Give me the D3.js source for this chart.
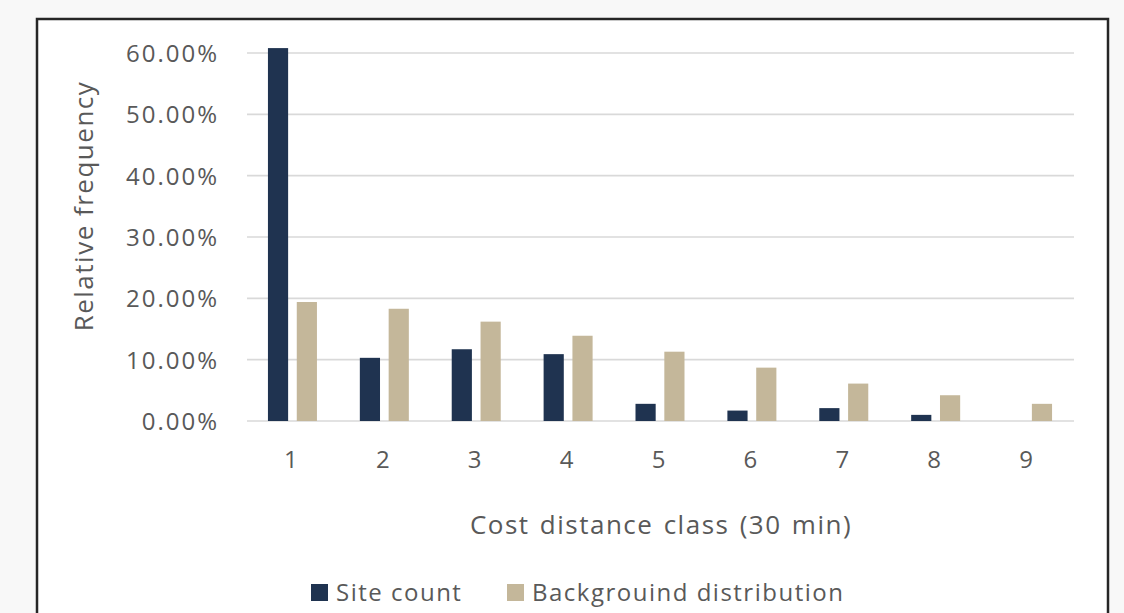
<!DOCTYPE html>
<html><head><meta charset="utf-8">
<script src="https://cdn.jsdelivr.net/npm/d3@7"></script>
<style>
html,body{margin:0;padding:0;background:#f8f8f8;}
svg{display:block;}
text{font-family:"Open Sans",sans-serif;fill:#595959;}
</style></head>
<body>
<svg id="chart" width="1124" height="613"></svg>
<script>
const categories = ["1","2","3","4","5","6","7","8","9"];
const siteCount = [60.8, 10.3, 11.7, 10.9, 2.8, 1.7, 2.1, 1.0, 0];
const background = [19.4, 18.3, 16.2, 13.9, 11.3, 8.7, 6.1, 4.2, 2.8];
const yTicks = [0, 10, 20, 30, 40, 50, 60];
const seriesNames = ["Site count", "Backgrouind distribution"];
const colors = ["#1f3350", "#c4b79a"];

const svg = d3.select("#chart");
svg.append("rect").attr("x", 37).attr("y", 19).attr("width", 1071).attr("height", 620)
  .attr("fill", "#fff").attr("stroke", "#262626").attr("stroke-width", 2.5);

const L = 247, R = 1074, T = 53, B = 421;
const x = d3.scaleBand().domain(categories).range([L, R]);
const y = d3.scaleLinear().domain([0, 60]).range([B, T]);
const inner = d3.scaleBand().domain([0, 1]).range([-1, 48]).paddingInner(0.3);

// gridlines
svg.append("g").selectAll("line").data(yTicks).join("line")
  .attr("x1", L).attr("x2", R).attr("y1", d => y(d)).attr("y2", d => y(d))
  .attr("stroke", "#d9d9d9").attr("stroke-width", 1.6);

// y axis labels
const yAxis = d3.axisLeft(y).tickValues(yTicks).tickSize(0).tickPadding(0)
  .tickFormat(d => d.toFixed(2) + "%");
const gy = svg.append("g").attr("transform", `translate(${L - 28},0)`).call(yAxis);
gy.select(".domain").remove();
gy.selectAll("text").attr("font-size", 24).attr("font-family", "Open Sans").attr("fill", "#595959")
  .attr("letter-spacing", 2).attr("dy", "0.35em");

// bars
const series = [siteCount, background];
series.forEach((vals, si) => {
  svg.append("g").selectAll("rect").data(vals).join("rect")
    .attr("x", (d, i) => x(categories[i]) + x.bandwidth() / 2 - 24 + inner(si))
    .attr("width", inner.bandwidth())
    .attr("y", d => y(d))
    .attr("height", d => B - y(d))
    .attr("fill", colors[si]);
});

// x axis labels
const xAxis = d3.axisBottom(x).tickSize(0).tickPadding(0);
const gx = svg.append("g").attr("transform", `translate(-2,${B + 30})`).call(xAxis);
gx.select(".domain").remove();
gx.selectAll("text").attr("font-size", 24).attr("font-family", "Open Sans").attr("fill", "#595959").attr("dy", "0.71em");

// axis titles
svg.append("text").attr("x", 661).attr("y", 534).attr("text-anchor", "middle")
  .attr("font-size", 26).attr("letter-spacing", 1.5).attr("word-spacing", 2)
  .text("Cost distance class (30 min)");
svg.append("text").attr("transform", "translate(93,206) rotate(-90)").attr("text-anchor", "middle")
  .attr("font-size", 26).attr("letter-spacing", 1.5).text("Relative frequency");

// legend
const legX = [311, 507];
seriesNames.forEach((n, i) => {
  const g = svg.append("g").attr("transform", `translate(${legX[i]},584)`);
  g.append("rect").attr("width", 17).attr("height", 17).attr("fill", colors[i]);
  g.append("text").attr("x", 25).attr("y", 17).attr("font-size", 24).attr("letter-spacing", 1.5).text(n);
});
</script>
</body></html>
